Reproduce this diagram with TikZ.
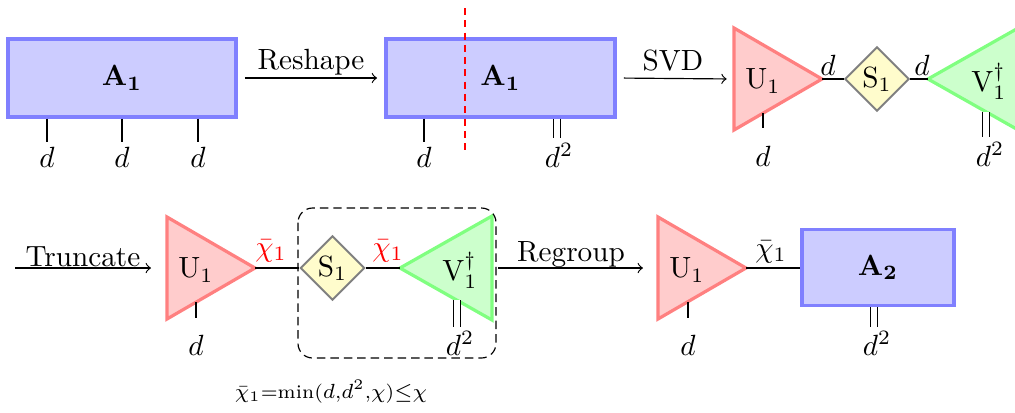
\documentclass[tikz,border=0pt]{standalone}
\usetikzlibrary{shapes.geometric}
\begin{document}
\begin{tikzpicture}[x=0.342pt,y=-0.342pt,
  tbox/.style={draw=blue!50, fill=blue!20, line width=1.1pt, inner sep=0pt},
  utri/.style={draw=red!50, fill=red!20, line width=1.1pt},
  vtri/.style={draw=green!50, fill=green!20, line width=1.1pt},
  sdia/.style={diamond, draw=gray, fill=yellow!20, line width=0.7pt, inner sep=0pt, minimum width=22pt, minimum height=22pt},
  dleg/.style={double, double distance=2pt, line width=0.4pt},
  lbl/.style={inner sep=0pt, anchor=base},
  ctr/.style={inner sep=0pt, anchor=center},
  op/.style={->, line width=0.4pt}]
\clip (0,0) rectangle (1015,412);
\useasboundingbox (0,0) rectangle (1015,412);

% ---------- top row ----------
\node[tbox, minimum width=78pt, minimum height=26.7pt] (A) at (122,78) {$\mathbf{A_1}$};
\coordinate (a1) at (47,142); \coordinate (a2) at (122,142); \coordinate (a3) at (198,142);
\draw (A.south -| a1) -- (a1);
\draw (A.south -| a2) -- (a2);
\draw (A.south -| a3) -- (a3);
\node[lbl] (da1) at (47,167) {$d$};
\node[lbl] (da2) at (122,167) {$d$};
\node[lbl] (da3) at (198,167) {$d$};

\node[tbox, minimum width=78.3pt, minimum height=26.7pt] (B) at (500.5,78) {$\mathbf{A_1}$};
\draw[op, shorten <=2.5pt, shorten >=2.5pt] (A.east) -- (B.west);
\node[lbl] (reshape) at (311,69) {Reshape};
\coordinate (b1) at (424,142); \coordinate (b2) at (557,138);
\draw (B.south -| b1) -- (b1);
\draw[dleg] (B.south -| b2) -- (b2);
\node[lbl] (db1) at (424,167) {$d$};
\node[lbl] (db2) at (559,167) {$d^2$};
\coordinate (cutT) at (465,8); \coordinate (cutB) at (465,154);
\draw[red, line width=0.9pt, dash pattern=on 2.4pt off 1.8pt] (cutT) -- (cutB);

% U (top)
\coordinate (Uw) at (734,79); \coordinate (Ue) at (822,79);
\draw[utri] (734,28) -- (Ue) -- (734,130) -- cycle;
\node[ctr] (Ul) at (763,81) {U$_1$};
\draw[op, shorten <=2.5pt, shorten >=2.5pt] (B.east) -- (Uw);
\node[lbl] (svd) at (673,70) {SVD};
\coordinate (u1a) at (763,113.2); \coordinate (u1b) at (763,128);
\draw (u1a) -- (u1b);
\node[lbl] (du) at (763,166) {$d$};

\node[sdia] (S) at (877,79) {S$_1$};
\draw (Ue) -- (S.west);
\node[lbl] (dus) at (828,75) {$d$};

% V (top)
\coordinate (Vw) at (928,79);
\draw[vtri] (Vw) -- (1020,27) -- (1020,131) -- cycle;
\node[ctr] (Vl) at (989,81) {V$_1^\dagger$};
\draw (S.east) -- (Vw);
\node[lbl] (dsv) at (922,75) {$d$};
\coordinate (v1a) at (986,111.8); \coordinate (v1b) at (986,137);
\draw[dleg] (v1a) -- (v1b);
\node[lbl] (dv) at (990,166) {$d^2$};

% ---------- bottom row ----------
\coordinate (trS) at (15,268); \coordinate (trE) at (151,268);
\draw[op] (trS) -- (trE);
\node[lbl] (trunc) at (83,266) {Truncate};

\coordinate (U2w) at (167,268); \coordinate (U2e) at (255,268);
\draw[utri] (167,217) -- (U2e) -- (167,319) -- cycle;
\node[ctr] (U2l) at (196,270) {U$_1$};
\coordinate (u2a) at (196,302.2); \coordinate (u2b) at (196,318);
\draw (u2a) -- (u2b);
\node[lbl] (du2) at (196,355) {$d$};

\node[sdia] (S2) at (332.5,268) {S$_1$};
\draw (U2e) -- (S2.west);
\node[ctr, text=red] (c1) at (271,251) {$\bar{\chi}_1$};

\coordinate (V2w) at (400,268);
\draw[vtri] (V2w) -- (492,216) -- (492,320) -- cycle;
\node[ctr] (V2l) at (460,270) {V$_1^\dagger$};
\draw (S2.east) -- (V2w);
\node[ctr, text=red] (c2) at (388,251) {$\bar{\chi}_1$};
\coordinate (v2a) at (457,300.2); \coordinate (v2b) at (457,327);
\draw[dleg] (v2a) -- (v2b);
\node[lbl] (dv2) at (460,355) {$d^2$};

\coordinate (grpNW) at (298,208); \coordinate (grpSE) at (496,358);
\draw[line width=0.4pt, dash pattern=on 2.9pt off 1.7pt, rounded corners=5pt] (grpNW) rectangle (grpSE);
\node[ctr, font=\fontsize{6.6}{8}\selectfont] (eq) at (331,392) {$\bar{\chi}_1$=min($d$,$d^2$,$\chi$)$\mathord{\leq}\chi$};

\coordinate (rgS) at (498,268); \coordinate (rgE) at (643,268);
\draw[op] (rgS) -- (rgE);
\node[lbl] (regroup) at (571,261) {Regroup};

\coordinate (U3w) at (658,268); \coordinate (U3e) at (746,268);
\draw[utri] (658,217) -- (U3e) -- (658,319) -- cycle;
\node[ctr] (U3l) at (687,270) {U$_1$};
\coordinate (u3a) at (688,301.6); \coordinate (u3b) at (688,318);
\draw (u3a) -- (u3b);
\node[lbl] (du3) at (688,355) {$d$};

\node[tbox, minimum width=52pt, minimum height=26pt] (A2) at (878,267.5) {$\mathbf{A_2}$};
\draw (U3e) -- (A2.west |- U3e);
\node[ctr] (c3) at (771,252) {$\bar{\chi}_1$};
\coordinate (a2l) at (874,327);
\draw[dleg] (A2.south -| a2l) -- (a2l);
\node[lbl] (da2l) at (877,355) {$d^2$};
\end{tikzpicture}
\end{document}
